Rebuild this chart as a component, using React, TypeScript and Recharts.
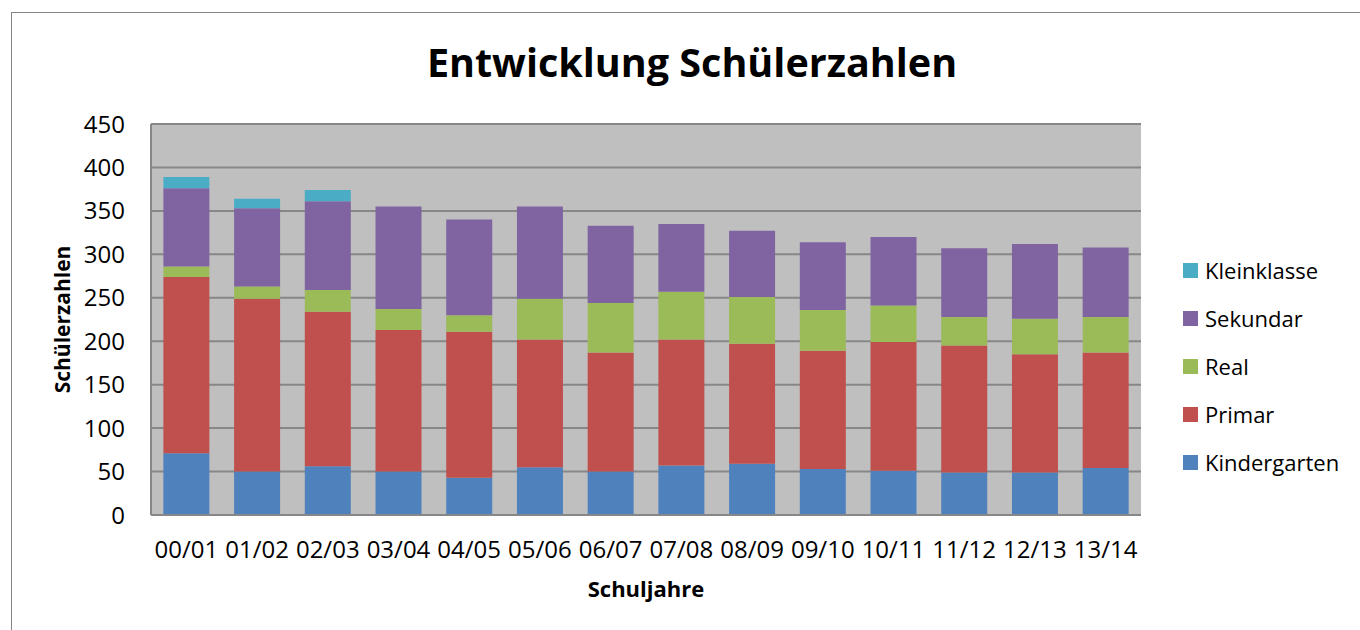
import React from "react";
import { Bar, BarChart, CartesianGrid, Legend, XAxis, YAxis } from "recharts";

const years = ["00/01", "01/02", "02/03", "03/04", "04/05", "05/06", "06/07", "07/08", "08/09", "09/10", "10/11", "11/12", "12/13", "13/14"];
const kindergarten = [71, 50, 56, 50, 43, 55, 50, 57, 59, 53, 51, 49, 49, 54];
const primar = [203, 199, 178, 163, 168, 147, 137, 145, 138, 136, 148, 146, 136, 133];
const real = [12, 14, 25, 24, 19, 47, 57, 55, 54, 47, 42, 33, 41, 41];
const sekundar = [90, 90, 102, 118, 110, 106, 89, 78, 76, 78, 79, 79, 86, 80];
const kleinklasse = [13, 11, 13, 0, 0, 0, 0, 0, 0, 0, 0, 0, 0, 0];
const yTicks = [0, 50, 100, 150, 200, 250, 300, 350, 400, 450];

const series = [
  { key: "Kindergarten", color: "#4F81BD", values: kindergarten },
  { key: "Primar", color: "#C0504D", values: primar },
  { key: "Real", color: "#9BBB59", values: real },
  { key: "Sekundar", color: "#8064A2", values: sekundar },
  { key: "Kleinklasse", color: "#4BACC6", values: kleinklasse },
];

const data = years.map((year, i) => {
  const row: Record<string, string | number> = { year };
  series.forEach((s) => {
    row[s.key] = s.values[i];
  });
  return row;
});

const FONT = "'Open Sans', 'DejaVu Sans', sans-serif";
const GRID = "#878787";

function LegendList() {
  return (
    <div style={{ fontFamily: FONT, fontSize: 22, color: "#000" }}>
      {[...series].reverse().map((s) => (
        <div key={s.key} style={{ height: 48, display: "flex", alignItems: "center" }}>
          <span style={{ width: 15, height: 15, background: s.color, display: "inline-block", marginRight: 7 }} />
          <span>{s.key}</span>
        </div>
      ))}
    </div>
  );
}

function YLabel(props: any) {
  const vb = props.viewBox || {};
  const x = (vb.x || 0) + 62;
  const y = (vb.y || 0) + (vb.height || 0) / 2;
  return (
    <text
      x={x}
      y={y}
      transform={`rotate(-90 ${x} ${y})`}
      textAnchor="middle"
      dominantBaseline="central"
      fontFamily={FONT}
      fontWeight={700}
      fontSize={21}
      fill="#000"
    >
      Schülerzahlen
    </text>
  );
}

export default function App() {
  return (
    <div style={{ position: "absolute", left: 0, top: 0, width: 1360, height: 630, overflow: "hidden", background: "#fff" }}>
      <div
        style={{
          position: "absolute",
          left: 11,
          top: 12,
          width: 1400,
          height: 700,
          border: "1.5px solid #868686",
        }}
      />
      <div
        style={{
          position: "absolute",
          left: 0,
          width: 1384,
          top: 35,
          textAlign: "center",
          fontFamily: FONT,
          fontWeight: 700,
          fontSize: 39.5,
          lineHeight: "54px",
          color: "#000",
        }}
      >
        Entwicklung Schülerzahlen
      </div>
      <div style={{ position: "absolute", left: 0, top: 0 }}>
        <BarChart
          width={1360}
          height={630}
          data={data}
          margin={{ top: 124, right: 219, bottom: 25, left: 0 }}
          barCategoryGap="17.5%"
        >
          <CartesianGrid vertical={false} fill="#BFBFBF" stroke={GRID} strokeWidth={2} />
          <XAxis
            dataKey="year"
            height={90}
            tickLine={false}
            axisLine={{ stroke: GRID, strokeWidth: 2 }}
            tickMargin={20}
            tick={{ fontFamily: FONT, fontSize: 24, fill: "#000" }}
            interval={0}
            label={{
              value: "Schuljahre",
              position: "insideBottom",
              offset: 8,
              fontFamily: FONT,
              fontWeight: 700,
              fontSize: 22,
              fill: "#000",
            }}
          />
          <YAxis
            width={151}
            domain={[0, 450]}
            ticks={yTicks}
            tickLine={false}
            axisLine={{ stroke: GRID, strokeWidth: 2 }}
            tickMargin={20}
            tick={{ fontFamily: FONT, fontSize: 24, fill: "#000" }}
            label={<YLabel />}
          />
          <Legend
            layout="vertical"
            align="center"
            verticalAlign="middle"
            content={() => <LegendList />}
            wrapperStyle={{ position: "absolute", left: 1183, top: 246, width: 170, height: 240 }}
          />
          {series.map((s) => (
            <Bar key={s.key} dataKey={s.key} stackId="a" fill={s.color} isAnimationActive={false} />
          ))}
        </BarChart>
      </div>
    </div>
  );
}
